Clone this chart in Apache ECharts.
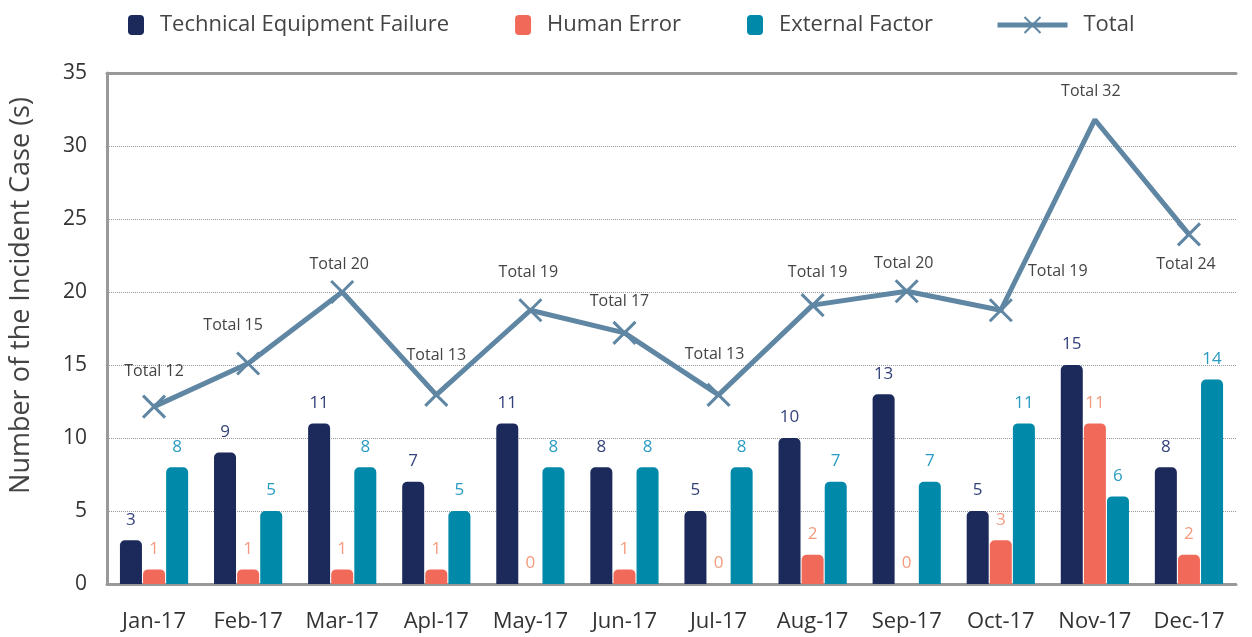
<!DOCTYPE html>
<html>
<head>
<meta charset="UTF-8">
<title>Incident Case</title>
<script type="text/javascript" src="https://cdn.jsdelivr.net/npm/echarts@6/dist/echarts.min.js"></script>
<style>
	html, body { margin: 0; padding: 0; background: #fff; }
	#main { width: 1252px; height: 637px; }
</style>
</head>
<body>
<div id="main"></div>
<script type="text/javascript">
	// data
	var months = ['Jan-17', 'Feb-17', 'Mar-17', 'Apl-17', 'May-17', 'Jun-17', 'Jul-17', 'Aug-17', 'Sep-17', 'Oct-17', 'Nov-17', 'Dec-17'];
	var techFailure = [3, 9, 11, 7, 11, 8, 5, 10, 13, 5, 15, 8];
	var humanError = [1, 1, 1, 1, 0, 1, 0, 2, 0, 3, 11, 2];
	var externalFactor = [8, 5, 8, 5, 8, 8, 8, 7, 7, 11, 6, 14];
	var totals = [12, 15, 20, 13, 19, 17, 13, 19, 20, 19, 32, 24];
	// where the total line is actually drawn in the picture
	var totalLine = [12.15, 15.1, 20, 12.95, 18.75, 17.2, 12.95, 19.1, 20.05, 18.75, 31.8, 23.95];
	var yTicks = [0, 5, 10, 15, 20, 25, 30, 35];

	// label offsets of the "Total" texts (px, from the marker)
	var totalLabelOffsets = [[0, -35], [-15, -38], [-3, -28], [0, -39], [-2, -38], [-5, -31],
		[-4, -40], [5, -33], [-3, -28], [57, -39], [-4, -28], [-3, 30]];

	var FONT = 'Open Sans';
	var xMark = 'path://M0,0L10,10M10,0L0,10';

	var chart = document.getElementById('main');
	var echart = echarts.init(chart);

	var lineData = totalLine.map(function (v, i) {
		var item = {
			value: v,
			label: { formatter: 'Total ' + totals[i], offset: totalLabelOffsets[i] }
		};
		// the peak has no marker
		if (i === 10) item.symbolSize = 0;
		return item;
	});

	function barLabel(color) {
		return {
			show: true,
			position: 'top',
			distance: 12,
			color: color,
			fontSize: 17,
			fontFamily: FONT
		};
	}

	var option = {
		animation: false,
		textStyle: { fontFamily: FONT },
		legend: [{
			left: 128,
			top: 14,
			padding: 0,
			itemWidth: 16,
			itemHeight: 20,
			itemGap: 66,
			icon: 'roundRect',
			textStyle: { fontSize: 22, color: '#444', fontFamily: FONT, padding: [0, 0, 0, 11] },
			data: ['Technical Equipment Failure', 'Human Error', 'External Factor']
		}, {
			left: 995,
			top: 14,
			padding: 0,
			itemWidth: 70,
			itemHeight: 20,
			lineStyle: { width: 5, color: '#5f86a3' },
			textStyle: { fontSize: 22, color: '#444', fontFamily: FONT, padding: [0, 0, 0, 11] },
			data: ['Total']
		}],
		grid: {
			left: 107,
			right: 16,
			top: 73,
			bottom: 53,
			containLabel: false
		},
		xAxis: [{
			type: 'category',
			data: months,
			axisLine: { lineStyle: { color: '#999', width: 3 } },
			axisTick: { show: false },
			axisLabel: { interval: 0, fontSize: 22, color: '#333', margin: 27, fontFamily: FONT }
		}, {
			type: 'category',
			position: 'top',
			data: months,
			axisLine: { lineStyle: { color: '#999', width: 3 } },
			axisTick: { show: false },
			axisLabel: { show: false }
		}],
		yAxis: {
			type: 'value',
			min: yTicks[0],
			max: yTicks[yTicks.length - 1],
			interval: 5,
			name: 'Number of the Incident Case (s)',
			nameLocation: 'middle',
			nameRotate: 90,
			nameGap: 72,
			nameTextStyle: { fontSize: 27, color: '#444', fontFamily: FONT, padding: [0, 0, 0, 66] },
			axisLine: { show: true, lineStyle: { color: '#999', width: 3 } },
			axisTick: { show: false },
			axisLabel: { fontSize: 21, color: '#333', margin: 20, fontFamily: FONT },
			splitLine: { lineStyle: { color: '#999', type: 'dotted', width: 1 } }
		},
		series: [{
			name: 'Technical Equipment Failure',
			type: 'bar',
			barWidth: 22,
			barGap: '5%',
			data: techFailure,
			itemStyle: { color: '#1b295b', borderRadius: [5, 5, 0, 0] },
			label: barLabel('#34427a')
		}, {
			name: 'Human Error',
			type: 'bar',
			barWidth: 22,
			barGap: '5%',
			data: humanError,
			itemStyle: { color: '#f16a59', borderRadius: [5, 5, 0, 0] },
			label: barLabel('#f49a7e')
		}, {
			name: 'External Factor',
			type: 'bar',
			barWidth: 22,
			barGap: '5%',
			data: externalFactor,
			itemStyle: { color: '#0089a9', borderRadius: [5, 5, 0, 0] },
			label: barLabel('#2a9cc2')
		}, {
			name: 'Total',
			type: 'line',
			data: lineData,
			symbol: xMark,
			symbolSize: 22,
			lineStyle: { color: '#5f86a3', width: 5 },
			itemStyle: { color: '#5f86a3', borderColor: '#5f86a3', borderWidth: 3 },
			label: {
				show: true,
				position: 'inside',
				color: '#444',
				fontSize: 16,
				fontFamily: FONT
			},
			z: 5
		}]
	};

	echart.setOption(option, true);
</script>
</body>
</html>
